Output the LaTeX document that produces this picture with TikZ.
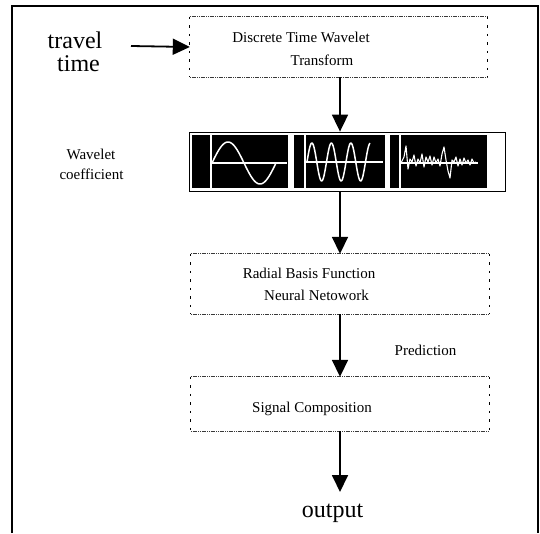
\documentclass[tikz,border=0pt]{standalone}
\usepackage{fontspec}
\setmainfont{Liberation Serif}
\usetikzlibrary{arrows.meta}
\begin{document}
\begin{tikzpicture}[x=1pt, y=-1pt,
  frame/.style={line width=1.6pt},
  flow/.style={line width=1.8pt, -{Triangle[length=17pt,width=16pt]}},
  procbox/.style={minimum width=297pt, minimum height=60pt, inner sep=0pt, draw=none},
  hedge/.style={gray!45!black, line width=0.8pt, dash pattern=on 1.2pt off 0.6pt},
  vedge/.style={black, line width=0.7pt, dash pattern=on 2.5pt off 6pt},
  small/.style={font=\fontsize{15}{18}\selectfont, inner sep=0pt},
  big/.style={font=\fontsize{24}{26}\selectfont, inner sep=0pt},
  trace/.style={white, line width=1.5pt, line join=round},
  panel/.style={fill=black, draw=none}]
\useasboundingbox (0,0) rectangle (540,533);

% open frame (no bottom edge)
\draw[frame] (12,533) -- (12,6) -- (538,6) -- (538,533);

% input label
\node[big] (travel) at (75,40) {travel};
\node[big] (time) at (78.5,64) {time};
\coordinate (in) at (131,46);

% processing boxes
\node[procbox] (dwt) at (338.5,47) {};
\node[procbox, minimum width=298pt] (rbf) at (340,284) {};
\node[procbox, minimum width=298pt, minimum height=54pt] (sc) at (340,404) {};
\foreach \b in {dwt,rbf,sc}{
  \draw[hedge] (\b.north west) -- (\b.north east) (\b.south west) -- (\b.south east);
  \draw[vedge] (\b.north west) -- (\b.south west) (\b.north east) -- (\b.south east);
}
\node[small] (dwt1) at (301,37) {Discrete Time Wavelet};
\node[small] (dwt2) at (322,60) {Transform};
\node[small] (rbf1) at (309,273.5) {Radial Basis Function};
\node[small] (rbf2) at (316.5,295) {Neural Netowork};
\node[small] (sc1) at (312,408.5) {Signal Composition};
\node[small] (pred) at (425.5,350) {Prediction};
\node[small] (wc1) at (91,154) {Wavelet};
\node[small] (wc2) at (91.5,174) {coefficient};
\node[big] (outp) at (332.5,513.5) {output};

% wavelet coefficient strip
\node[draw=black, line width=0.8pt, minimum width=316pt, minimum height=59pt, inner sep=0pt] (wav) at (347,161.5) {};
\fill[panel] (192,135) rectangle (288,188);
\fill[panel] (294,135) rectangle (385,188);
\fill[panel] (390,135) rectangle (487,188);
% panel 1: low frequency
\draw[trace] (211,135) -- (211,188);
\draw[trace] (211,163) -- (287,163);
\draw[trace] plot[domain=0:1, samples=60, smooth] ({212+64*\x},{163-21*sin(360*\x)});
% panel 2: higher frequency
\draw[trace] (305,135) -- (305,188);
\draw[trace] (305,162) -- (383,162);
\draw[trace] plot[domain=0:63, samples=90, smooth] ({307+\x},{162-19*sin(18.4615*\x)});
% panel 3: detail
\draw[trace] (400,135) -- (400,188);
\draw[trace] (400,163) -- (478,163);
\draw[white, line width=1.1pt, line join=round] (401,163) -- (404,157) -- (406,146) -- (408,169) -- (410,159) -- (412,162) -- (414,155) -- (416,166) -- (418,159) -- (420,163) -- (422,154) -- (424,167) -- (426,157) -- (428,162) -- (430,156) -- (432,165) -- (434,157) -- (436,163) -- (438,159) -- (440,166) -- (442,154) -- (444,147) -- (446,160) -- (448,171) -- (450,178) -- (452,160) -- (454,162) -- (456,157) -- (458,166) -- (460,159) -- (462,165) -- (464,158) -- (466,163) -- (468,160) -- (470,165) -- (472,159) -- (474,163) -- (476,162);

% signal flow
\coordinate (spine) at (340,0);
\coordinate (end) at (340,492);
\draw[flow] (in) -- (dwt.west);
\draw[flow] (dwt.south -| spine) -- (wav.north -| spine);
\draw[flow] (wav.south -| spine) -- (rbf.north -| spine);
\draw[flow] (rbf.south -| spine) -- (sc.north -| spine);
\draw[flow] (sc.south -| spine) -- (end);
\end{tikzpicture}
\end{document}
